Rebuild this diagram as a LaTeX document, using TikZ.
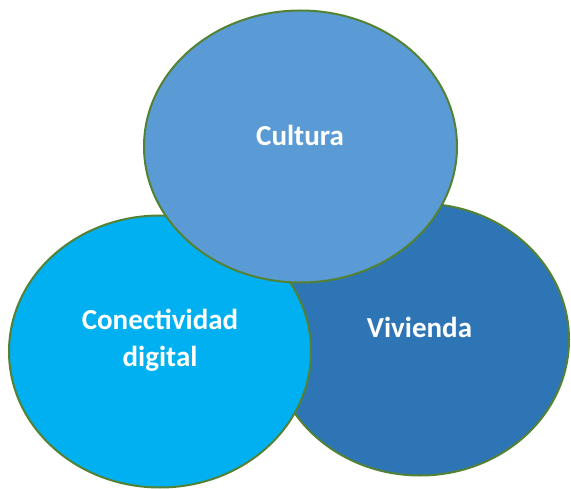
\documentclass[tikz,border=0pt]{standalone}
\usepackage{fontspec}
\setmainfont{Carlito}
\usetikzlibrary{shapes.geometric}
\definecolor{cultc}{HTML}{5B9BD5}
\definecolor{vivc}{HTML}{2E75B6}
\definecolor{conc}{HTML}{00B0F0}
\definecolor{edgec}{HTML}{548235}
\begin{document}
\begin{tikzpicture}[x=1pt,y=-1pt,
  blob/.style={ellipse,draw=edgec,line width=2pt,inner sep=0pt},
  lbl/.style={text=white,font=\fontsize{29}{37}\selectfont\bfseries,align=center}]
\useasboundingbox (0,0) rectangle (571,489);
\node[blob,fill=vivc,minimum width=298pt,minimum height=272pt] (viv) at (420,339.5) {};
\node[blob,fill=conc,minimum width=302pt,minimum height=272pt] (con) at (160,351.5) {};
\node[blob,fill=cultc,minimum width=313pt,minimum height=272pt] (cul) at (300.5,146.5) {};
\node[lbl] (tcul) at (300,135) {Cultura};
\node[lbl] (tviv) at (419.5,327) {Vivienda};
\node[lbl] (tcon) at (160,340) {Conectividad\\digital};
\end{tikzpicture}
\end{document}
